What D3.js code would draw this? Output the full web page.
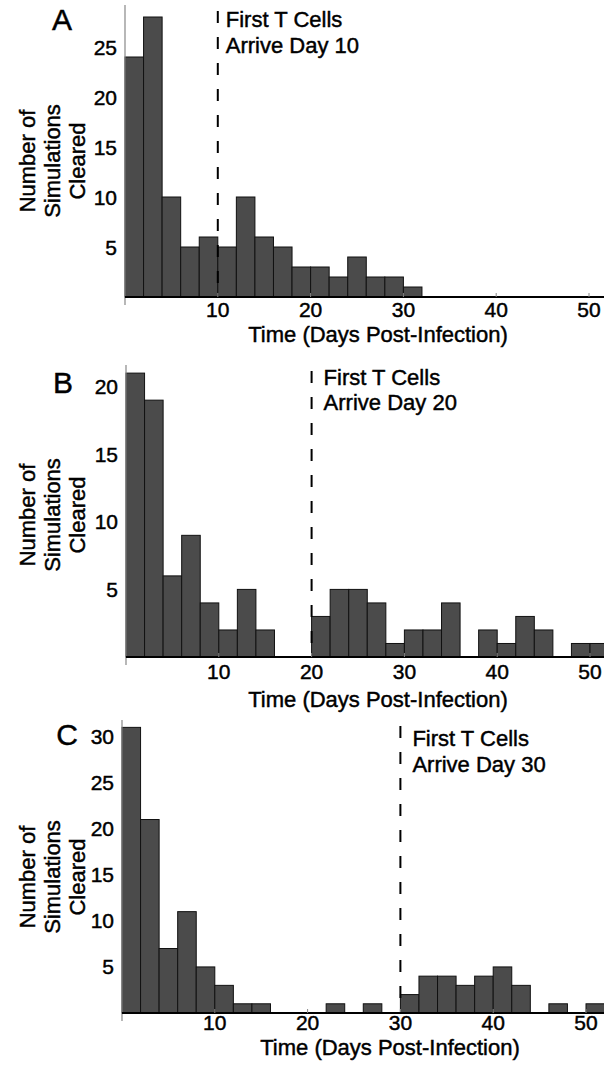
<!DOCTYPE html>
<html>
<head>
<meta charset="utf-8">
<script src="https://cdn.jsdelivr.net/npm/d3@7"></script>
<style>
  html, body { margin: 0; padding: 0; background: #fff; }
  svg { display: block; font-family: "Liberation Sans", Arial, sans-serif; }
  svg text { fill: #000; stroke: #000; stroke-width: 0.45px; }
</style>
</head>
<body>
<svg id="chart" width="604" height="1065"></svg>
<script>
// ---- Data ----
const binStarts = [0, 2, 4, 6, 8, 10, 12, 14, 16, 18, 20, 22, 24, 26, 28, 30, 32, 34, 36, 38, 40, 42, 44, 46, 48, 50];
const binWidth = 2;
const countsA = [24, 28, 10, 5, 6, 5, 10, 6, 5, 3, 3, 2, 4, 2, 2, 1, 0, 0, 0, 0, 0, 0, 0, 0, 0, 0];
const countsB = [21, 19, 6, 9, 4, 2, 5, 2, 0, 0, 3, 5, 5, 4, 1, 2, 2, 4, 0, 2, 1, 3, 2, 0, 1, 1];
const countsC = [31, 21, 7, 11, 5, 3, 1, 1, 0, 0, 0, 1, 0, 1, 0, 2, 4, 4, 3, 4, 5, 3, 0, 1, 0, 1];
const panelLetters = ["A", "B", "C"];
const tCellArrival = [10, 20, 30];
const annotationLine1 = "First T Cells";
const annotationLine2 = ["Arrive Day 10", "Arrive Day 20", "Arrive Day 30"];
const xTicks = [10, 20, 30, 40, 50];
const yTicksA = [5, 10, 15, 20, 25];
const yTicksB = [5, 10, 15, 20];
const yTicksC = [5, 10, 15, 20, 25, 30];
const yMaxes = [29.2, 21.6, 31.8];
const xTitle = "Time (Days Post-Infection)";
const yTitleLines = ["Number of", "Simulations", "Cleared"];

// ---- Layout (positions only) ----
const layout = [
  { left: 125, top: 5,   base: 297,  letterX: 62, letterY: 30,  titleX: 378, titleY: 342,  tickDy: 20, yTitleY: 161, annoY: [27, 53],   annoDx: 8 },
  { left: 126, top: 365, base: 657,  letterX: 63, letterY: 393, titleX: 378, titleY: 707,  tickDy: 22, yTitleY: 515, annoY: [385, 410], annoDx: 12 },
  { left: 122, top: 720, base: 1013, letterX: 67, letterY: 745, titleX: 390, titleY: 1055, tickDy: 17, yTitleY: 877, annoY: [746, 772], annoDx: 12 }
];
const rightEdge = 604;
const xUnitsPx = 464; // px per 50 days

const svg = d3.select("#chart");
const allCounts = [countsA, countsB, countsC];
const allYTicks = [yTicksA, yTicksB, yTicksC];

allCounts.forEach((counts, i) => {
  const L = layout[i];
  const x = d3.scaleLinear().domain([0, 50]).range([L.left, L.left + xUnitsPx]);
  const y = d3.scaleLinear().domain([0, yMaxes[i]]).range([L.base, L.top]);
  const g = svg.append("g");

  // bars
  g.selectAll("rect.bar")
    .data(binStarts.map((s, k) => ({ s, v: counts[k] })).filter(d => d.v > 0))
    .join("rect")
    .attr("class", "bar")
    .attr("x", d => x(d.s))
    .attr("y", d => y(d.v))
    .attr("width", d => x(d.s + binWidth) - x(d.s))
    .attr("height", d => y(0) - y(d.v))
    .attr("fill", "#4b4b4b")
    .attr("stroke", "#111")
    .attr("stroke-width", 1);

  // y axis line (gray, extends slightly below baseline)
  g.append("line")
    .attr("x1", L.left).attr("x2", L.left)
    .attr("y1", L.top).attr("y2", L.base + 8)
    .attr("stroke", "#888").attr("stroke-width", 1.2);

  // x axis line
  g.append("line")
    .attr("x1", L.left).attr("x2", rightEdge)
    .attr("y1", L.base).attr("y2", L.base)
    .attr("stroke", "#000").attr("stroke-width", 1.8);

  // x ticks (small, upward, gray)
  g.selectAll("line.xt").data(xTicks).join("line")
    .attr("x1", d => x(d)).attr("x2", d => x(d))
    .attr("y1", L.base).attr("y2", L.base - 4)
    .attr("stroke", "#888").attr("stroke-width", 1);

  // x tick labels
  g.selectAll("text.xl").data(xTicks).join("text")
    .attr("x", d => x(d)).attr("y", L.base + L.tickDy)
    .attr("text-anchor", "middle")
    .attr("font-size", 21)
    .text(d => d);

  // y tick labels
  g.selectAll("text.yl").data(allYTicks[i]).join("text")
    .attr("x", L.left - 8).attr("y", d => y(d))
    .attr("dy", "0.36em")
    .attr("text-anchor", "end")
    .attr("font-size", 21)
    .text(d => d);

  // dashed arrival line
  g.append("line")
    .attr("x1", x(tCellArrival[i])).attr("x2", x(tCellArrival[i]))
    .attr("y1", L.top + 6).attr("y2", L.base)
    .attr("stroke", "#000").attr("stroke-width", 2)
    .attr("stroke-dasharray", "12,14");

  // annotation
  g.append("text")
    .attr("x", x(tCellArrival[i]) + L.annoDx).attr("y", L.annoY[0])
    .attr("font-size", 22).text(annotationLine1);
  g.append("text")
    .attr("x", x(tCellArrival[i]) + L.annoDx).attr("y", L.annoY[1])
    .attr("font-size", 22).text(annotationLine2[i]);

  // x title
  g.append("text")
    .attr("x", L.titleX).attr("y", L.titleY)
    .attr("text-anchor", "middle")
    .attr("font-size", 22)
    .text(xTitle);

  // y title (3 lines rotated)
  const yLineX = [27, 52, 77];
  yTitleLines.forEach((t, k) => {
    g.append("text")
      .attr("transform", `translate(${yLineX[k]},${L.yTitleY}) rotate(-90)`)
      .attr("text-anchor", "middle")
      .attr("dy", "0.36em")
      .attr("font-size", 22)
      .text(t);
  });

  // panel letter
  g.append("text")
    .attr("x", L.letterX).attr("y", L.letterY)
    .attr("text-anchor", "middle")
    .attr("font-size", 30)
    .text(panelLetters[i]);
});
</script>
</body>
</html>
